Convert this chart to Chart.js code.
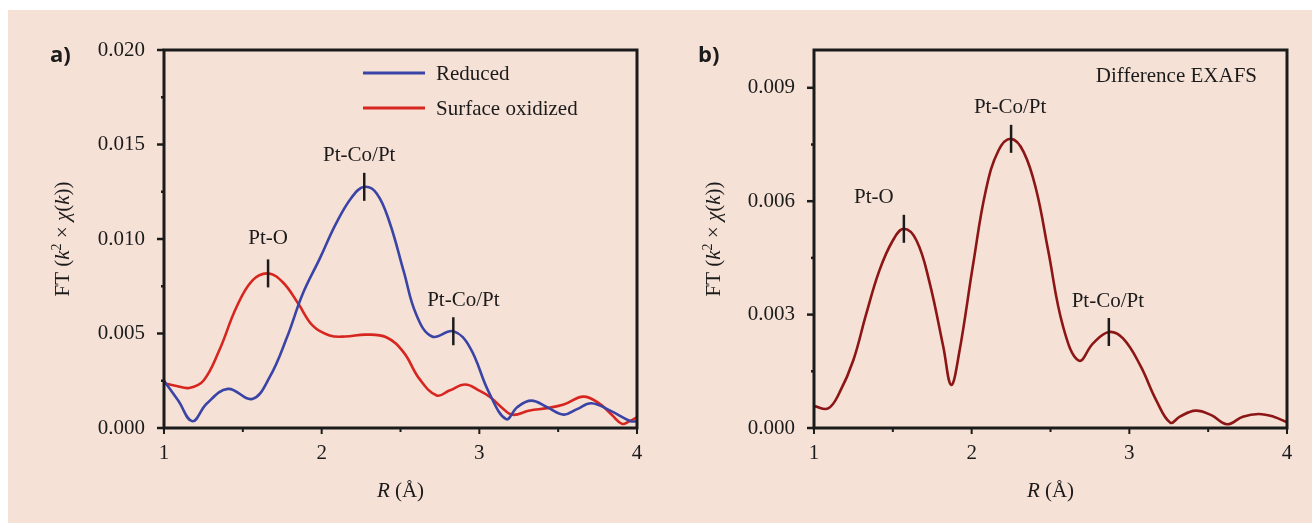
<!DOCTYPE html>
<html><head><meta charset="utf-8">
<script src="https://cdn.jsdelivr.net/npm/chart.js@4.4.0/dist/chart.umd.min.js"></script>
<style>
html,body{margin:0;padding:0;background:#fff;width:1312px;height:523px;overflow:hidden}
#bg{position:absolute;left:8px;top:10px;width:1304px;height:513px;background:#F6E1D6}
.wrap{position:absolute;top:0;width:656px;height:523px}
canvas{display:block}
</style></head><body>
<div id="bg"></div>
<div class="wrap" style="left:0"><canvas id="ca" width="656" height="523"></canvas></div>
<div class="wrap" style="left:656px"><canvas id="cb" width="656" height="523"></canvas></div>
<script>
// ---------- data ----------
const seriesNames = ['Reduced', 'Surface oxidized', 'Difference EXAFS'];

const reducedR = [1.0,1.09,1.18,1.27,1.405,1.56,1.67,1.78,1.88,1.99,2.09,2.19,2.27,2.35,2.43,2.52,2.60,2.70,2.835,2.94,3.06,3.17,3.24,3.33,3.43,3.535,3.62,3.71,3.83,3.96,4.0];
const reducedV = [0.0025,0.00145,0.00036,0.00128,0.00207,0.00154,0.00269,0.0048,0.0071,0.009,0.0108,0.0122,0.01276,0.0124,0.0109,0.0083,0.006,0.00484,0.00512,0.00427,0.0019,0.00047,0.0011,0.00145,0.0011,0.00071,0.001,0.00131,0.00092,0.00036,0.00036];

const oxidizedR = [1.0,1.08,1.16,1.25,1.35,1.46,1.56,1.66,1.755,1.85,1.945,2.05,2.15,2.28,2.41,2.52,2.62,2.73,2.81,2.91,3.0,3.07,3.14,3.21,3.32,3.43,3.535,3.66,3.76,3.84,3.905,3.95,4.0];
const oxidizedV = [0.00237,0.00222,0.00212,0.0025,0.0041,0.0064,0.0078,0.00818,0.0077,0.0066,0.0054,0.0049,0.00484,0.00494,0.0048,0.004,0.0026,0.00172,0.00198,0.0023,0.00198,0.00163,0.0011,0.0007,0.00093,0.00105,0.00124,0.00166,0.0013,0.0007,0.00022,0.00035,0.00057];

const diffR = [1.0,1.09,1.16,1.25,1.33,1.415,1.50,1.57,1.65,1.73,1.82,1.87,1.92,2.01,2.09,2.17,2.25,2.33,2.41,2.485,2.58,2.68,2.77,2.87,2.96,3.07,3.17,3.26,3.32,3.42,3.52,3.62,3.72,3.82,3.915,4.0];
const diffV = [0.00058,0.00052,0.00092,0.0018,0.003,0.00417,0.00496,0.00527,0.00496,0.0039,0.00215,0.00114,0.00197,0.00435,0.00629,0.00734,0.00765,0.0073,0.00629,0.0047,0.00268,0.00178,0.00224,0.00254,0.00237,0.00165,0.00074,0.00014,0.0003,0.00046,0.00034,0.0001,0.0003,0.00037,0.0003,0.00015];

const xMajorTicks = [1, 2, 3, 4];
const xMinorTicks = [1.5, 2.5, 3.5];
const aYMajorTicks = [0, 0.005, 0.010, 0.015, 0.020];
const aYMinorTicks = [0.0025, 0.0075, 0.0125, 0.0175];
const bYMajorTicks = [0, 0.003, 0.006, 0.009];
const bYMinorTicks = [0.0015, 0.0045, 0.0075];

const aPeakR = [1.66, 2.27, 2.835];
const aPeakV = [0.00818, 0.01276, 0.00512];
const aPeakText = ['Pt-O', 'Pt-Co/Pt', 'Pt-Co/Pt'];
const bPeakR = [1.57, 2.25, 2.87];
const bPeakV = [0.00527, 0.00765, 0.00254];
const bPeakText = ['Pt-O', 'Pt-Co/Pt', 'Pt-Co/Pt'];

// ---------- style ----------
const INK = '#1b1b1b';
const SERIF = '"Liberation Serif", "DejaVu Serif", serif';
const FS = 21;
const COLORS = ['#3A44A6', '#D6261F', '#8C1515'];

const pts = (xs, ys) => xs.map((x, i) => ({x: x, y: ys[i]}));
const near = (arr, v) => arr.some(a => Math.abs(a - v) < 1e-9);

function drawRich(ctx, segs, cx, cy, rot) {
  ctx.save();
  ctx.translate(cx, cy);
  if (rot) ctx.rotate(-Math.PI / 2);
  let total = 0;
  segs.forEach(s => { ctx.font = s.f; s.w = ctx.measureText(s.t).width; total += s.w; });
  let x = -total / 2;
  ctx.textAlign = 'left'; ctx.textBaseline = 'alphabetic'; ctx.fillStyle = INK;
  segs.forEach(s => { ctx.font = s.f; ctx.fillText(s.t, x, s.dy || 0); x += s.w; });
  ctx.restore();
}
const F = `${FS}px ${SERIF}`, FI = `italic ${FS}px ${SERIF}`, FSUP = `14px ${SERIF}`;
const yTitle = [{t:'FT (', f:F},{t:'k', f:FI},{t:'2', f:FSUP, dy:-8},{t:' \u00d7 ', f:F},{t:'\u03c7', f:FI},{t:'(', f:F},{t:'k', f:FI},{t:'))', f:F}];
const xTitle = [{t:'R', f:FI},{t:' (\u00c5)', f:F}];

function decor(cfg) {
  return {
    id: 'decor',
    afterDraw(chart) {
      const ctx = chart.ctx, ca = chart.chartArea, xs = chart.scales.x, ys = chart.scales.y;
      ctx.save();
      // frame
      ctx.strokeStyle = INK; ctx.lineWidth = 3;
      ctx.strokeRect(ca.left, ca.top, ca.right - ca.left, ca.bottom - ca.top);
      // tick marks
      ctx.lineWidth = 2;
      const tk = (x1, y1, x2, y2) => { ctx.beginPath(); ctx.moveTo(x1, y1); ctx.lineTo(x2, y2); ctx.stroke(); };
      xMajorTicks.forEach(v => { const p = xs.getPixelForValue(v); tk(p, ca.bottom, p, ca.bottom + 6); });
      xMinorTicks.forEach(v => { const p = xs.getPixelForValue(v); tk(p, ca.bottom, p, ca.bottom + 4); });
      ctx.lineWidth = 2.5;
      cfg.yMajor.forEach(v => { const p = ys.getPixelForValue(v); tk(ca.left, p, ca.left - 7, p); });
      cfg.yMinor.forEach(v => { const p = ys.getPixelForValue(v); tk(ca.left, p, ca.left - 3, p); });
      // peak markers
      ctx.lineWidth = 2.5;
      ctx.font = F; ctx.fillStyle = INK; ctx.textAlign = 'center'; ctx.textBaseline = 'middle';
      cfg.peakR.forEach((r, i) => {
        const px = xs.getPixelForValue(r), py = ys.getPixelForValue(cfg.peakV[i]);
        tk(px, py - 14, px, py + 14);
        const sh = cfg.labelShift[i];
        ctx.fillText(cfg.peakText[i], px + sh[0], py - 31 + sh[1]);
      });
      // legend / note
      ctx.textAlign = 'left';
      if (cfg.legend) {
        chart.data.datasets.forEach((ds, i) => {
          const y = ca.top + 23 + i * 35;
          ctx.strokeStyle = ds.borderColor; ctx.lineWidth = 3;
          tk(ca.left + 199, y, ca.left + 261, y);
          ctx.fillStyle = INK; ctx.fillText(ds.label, ca.left + 272, y + 1);
        });
      }
      if (cfg.note) {
        ctx.textAlign = 'right'; ctx.fillStyle = INK;
        ctx.fillText(cfg.note, ca.right - 30, ca.top + 26);
      }
      // panel label
      ctx.textAlign = 'left'; ctx.textBaseline = 'alphabetic';
      ctx.font = 'bold 22px "Open Sans", "Noto Sans", sans-serif';
      ctx.fillText(cfg.panel, cfg.panelX, 62);
      ctx.restore();
      // axis titles
      drawRich(ctx, yTitle, cfg.yTitleX, (ca.top + ca.bottom) / 2, true);
      drawRich(ctx, xTitle, (ca.left + ca.right) / 2, 497, false);
    }
  };
}

function makeChart(id, datasets, yMax, yMajor, yMinor, yWidth, padRight, cfg) {
  return new Chart(document.getElementById(id), {
    type: 'line',
    data: { datasets: datasets },
    options: {
      responsive: false,
      animation: false,
      layout: { padding: { left: 0, top: 50, right: padRight, bottom: 0 } },
      plugins: { legend: { display: false }, tooltip: { enabled: false } },
      elements: { point: { radius: 0 }, line: { borderWidth: 2.6, tension: 0.4 } },
      scales: {
        x: {
          type: 'linear', min: 1, max: 4,
          afterBuildTicks: s => { s.ticks = xMajorTicks.map(v => ({value: v})); },
          afterFit: s => { s.height = 95; },
          border: { display: false },
          grid: { drawOnChartArea: false, drawTicks: true, tickLength: 7, tickColor: 'rgba(0,0,0,0)', color: 'rgba(0,0,0,0)' },
          ticks: { color: INK, font: { family: SERIF, size: FS }, padding: 6, maxRotation: 0, callback: v => String(v) }
        },
        y: {
          type: 'linear', min: 0, max: yMax,
          afterBuildTicks: s => { s.ticks = yMajor.concat(yMinor).sort((a, b) => a - b).map(v => ({value: v})); },
          afterFit: s => { s.width = yWidth; },
          border: { display: false },
          grid: { drawOnChartArea: false, drawTicks: true, tickLength: 7, tickColor: 'rgba(0,0,0,0)', color: 'rgba(0,0,0,0)' },
          ticks: { color: INK, font: { family: SERIF, size: FS }, padding: 12, callback: v => near(yMajor, v) ? v.toFixed(3) : '' }
        }
      }
    },
    plugins: [decor(cfg)]
  });
}

makeChart('ca', [
  { label: seriesNames[0], data: pts(reducedR, reducedV), borderColor: COLORS[0], backgroundColor: COLORS[0] },
  { label: seriesNames[1], data: pts(oxidizedR, oxidizedV), borderColor: COLORS[1], backgroundColor: COLORS[1] }
], 0.020, aYMajorTicks, aYMinorTicks, 164, 19, {
  yMajor: aYMajorTicks, yMinor: aYMinorTicks,
  peakR: aPeakR, peakV: aPeakV, peakText: aPeakText,
  labelShift: [[0, -4], [-5, 0], [10, 0]],
  legend: true, panel: 'a)', panelX: 50, yTitleX: 69
});

makeChart('cb', [
  { label: seriesNames[2], data: pts(diffR, diffV), borderColor: COLORS[2], backgroundColor: COLORS[2] }
], 0.010, bYMajorTicks, bYMinorTicks, 158, 25, {
  yMajor: bYMajorTicks, yMinor: bYMinorTicks,
  peakR: bPeakR, peakV: bPeakV, peakText: bPeakText,
  labelShift: [[-30, 0], [-1, 0], [-1, 0]],
  legend: false, note: seriesNames[2], panel: 'b)', panelX: 42, yTitleX: 64
});
</script>
</body></html>
